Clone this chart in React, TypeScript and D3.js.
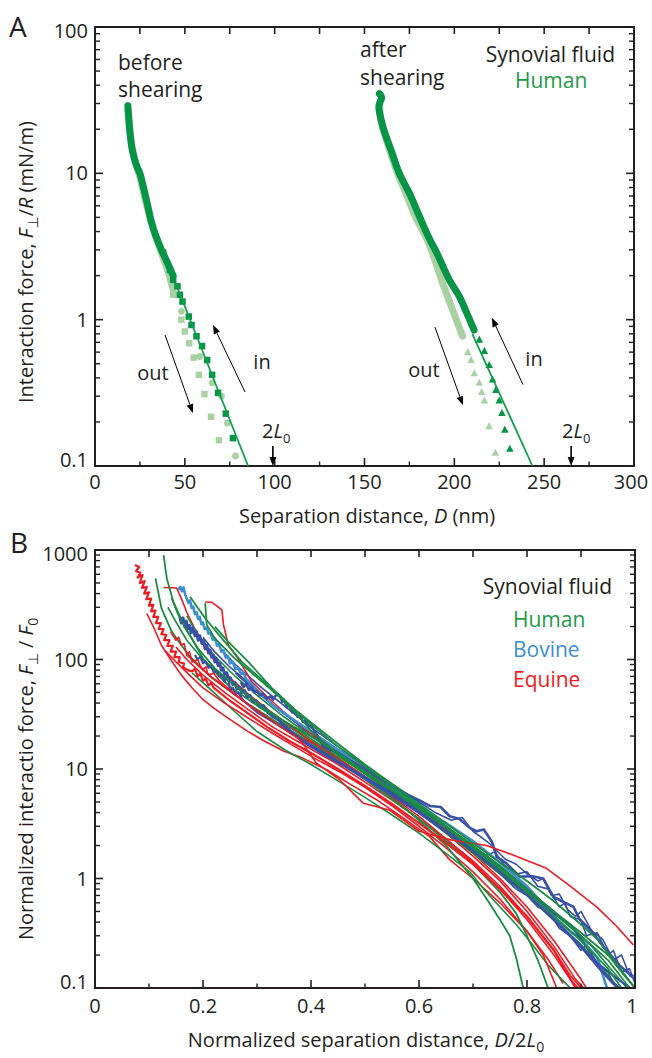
import React from "react";
import * as d3 from "d3";

// ---------- Panel A data: [D (nm), F/R (mN/m)] ----------
const beforeInBand: [number, number][] = [
  [18.3, 29], [18.8, 24], [19.5, 19], [20.5, 15], [22, 12.5], [23.5, 11], [25, 10], [27, 8], [29, 6.3],
  [31.5, 4.6], [34, 3.7], [37, 3.0], [40, 2.5], [43.5, 2.0],
];
const beforeInPts: [number, number][] = [
  [38, 2.87], [41.7, 2.19], [43.5, 1.87], [45.9, 1.69], [47.2, 1.48], [48.7, 1.33], [52.2, 1.05], [53.7, 0.92],
  [56.5, 0.77], [59.6, 0.66], [62.4, 0.53], [65.2, 0.42], [68.5, 0.316], [72.8, 0.228], [76.8, 0.155],
];
const beforeOutBand: [number, number][] = [
  [18.3, 27], [19.5, 19], [22, 12.5], [24.8, 9.6], [28.8, 6], [32.8, 4], [36.8, 2.9], [40.8, 2.1], [43.5, 1.6],
];
const beforeOutSq: [number, number][] = [
  [43.5, 1.48], [48.1, 1.0], [50, 0.83], [52.4, 0.69], [55, 0.55], [57.8, 0.42], [60.9, 0.31], [64.6, 0.217], [69, 0.15],
];
const beforeOutCirc: [number, number][] = [
  [48.1, 1.14], [58.3, 0.56], [65.2, 0.37], [70.4, 0.3], [73.7, 0.197], [78.2, 0.117],
];
const beforeFit: [number, number][] = [[45, 1.76], [85.2, 0.1]];

const afterInBand: [number, number][] = [
  [158.3, 35], [159.6, 33], [158.8, 31], [158, 28.6], [160.2, 20.9], [164.8, 14.4], [169.4, 10], [175, 7.3],
  [180.6, 5.07], [186, 3.6], [190, 2.9], [197.2, 1.87], [202.8, 1.44], [206.5, 1.14], [211, 0.85],
];
const afterInPts: [number, number][] = [
  [213.9, 0.73], [216.7, 0.61], [219.4, 0.49], [221.3, 0.39], [223.1, 0.33], [225, 0.28], [226.5, 0.23],
  [228.1, 0.177], [230.9, 0.131],
];
const afterOutBand: [number, number][] = [
  [158.3, 30], [159.5, 22], [163.5, 15], [167.8, 10.5], [173, 7.3], [178.5, 5], [185, 3.5], [188.5, 2.7],
  [193.5, 1.78], [199, 1.17], [204.6, 0.77],
];
const afterOutPts: [number, number][] = [
  [207.5, 0.6], [209.3, 0.53], [211.1, 0.43], [213.9, 0.37], [215.2, 0.32], [216.7, 0.28], [219.4, 0.187], [222.8, 0.123],
];
const afterFit: [number, number][] = [[210, 0.8], [243.5, 0.1]];

const xTicksA = [0, 50, 100, 150, 200, 250, 300];
const yTicksA = [0.1, 1, 10, 100];
const yTicksB = [0.1, 1, 10, 100, 1000];
const xTicksB = [0, 0.2, 0.4, 0.6, 0.8, 1];

// ---------- Panel B data: [D/2L0, F/F0] ----------
const red1: [number, number][] = [
  [0.074, 730], [0.082, 700], [0.076, 640], [0.084, 620], [0.079, 560], [0.088, 590], [0.083, 500], [0.092, 520],
  [0.087, 450], [0.096, 460], [0.091, 400], [0.1, 410], [0.095, 355], [0.104, 360], [0.1, 310], [0.108, 315],
  [0.104, 275], [0.112, 280], [0.108, 245], [0.117, 245], [0.113, 215], [0.122, 215], [0.118, 190], [0.127, 190],
  [0.123, 170], [0.132, 168], [0.128, 150], [0.138, 150], [0.134, 133], [0.144, 133], [0.14, 118], [0.15, 118],
  [0.147, 105], [0.157, 105], [0.155, 95], [0.165, 92], [0.163, 85], [0.172, 80], [0.18, 78], [0.185, 82],
  [0.19, 70], [0.195, 74], [0.2, 64], [0.205, 67], [0.21, 58], [0.215, 61], [0.22, 55], [0.25, 42], [0.28, 33],
  [0.32, 24], [0.36, 18], [0.4, 14], [0.45, 10], [0.5, 7], [0.55, 4.8], [0.6, 3.2], [0.65, 2.1], [0.7, 1.35],
  [0.75, 0.8], [0.8, 0.45], [0.85, 0.22], [0.89, 0.1],
];
const red2: [number, number][] = [
  [0.096, 263], [0.11, 190], [0.123, 135], [0.14, 100], [0.16, 72], [0.18, 55], [0.198, 44], [0.22, 36],
  [0.247, 29], [0.28, 22.5], [0.31, 18.4], [0.35, 14.5], [0.38, 12.9], [0.43, 9.8], [0.47, 7.4], [0.52, 5.3],
  [0.57, 3.6], [0.62, 2.4], [0.657, 1.48], [0.7, 1.0], [0.75, 0.6], [0.8, 0.33], [0.84, 0.18], [0.867, 0.11],
];
const red3: [number, number][] = [
  [0.127, 455], [0.151, 450], [0.16, 360], [0.17, 270], [0.185, 190], [0.2, 140], [0.22, 100], [0.25, 68],
  [0.28, 50], [0.32, 35], [0.36, 25], [0.4, 18], [0.45, 12.5], [0.5, 8.5], [0.55, 5.6], [0.6, 3.7], [0.65, 2.3],
  [0.7, 1.4], [0.75, 0.8], [0.8, 0.42], [0.85, 0.2], [0.88, 0.12], [0.895, 0.1],
];
const red4: [number, number][] = [
  [0.204, 335], [0.216, 333], [0.225, 310], [0.235, 282], [0.238, 207], [0.247, 135], [0.265, 102], [0.29, 63],
  [0.32, 45], [0.36, 30], [0.4, 21], [0.45, 14], [0.5, 9.5], [0.55, 6.5], [0.6, 4.3], [0.65, 2.8], [0.7, 1.7],
  [0.75, 1.0], [0.8, 0.55], [0.85, 0.27], [0.9, 0.12], [0.91, 0.1],
];
const red5: [number, number][] = [
  [0.14, 180], [0.15, 150], [0.155, 160], [0.16, 135], [0.165, 140], [0.17, 110], [0.175, 118], [0.18, 95],
  [0.19, 100], [0.195, 88], [0.2, 80], [0.205, 86], [0.21, 72], [0.22, 75], [0.23, 64], [0.24, 58], [0.27, 44],
  [0.3, 34], [0.34, 25], [0.38, 18.5], [0.41, 11.3], [0.454, 7.9], [0.496, 4.9], [0.546, 4.2], [0.6, 2.7],
  [0.66, 2.25], [0.725, 2.0], [0.78, 1.6], [0.836, 1.24], [0.88, 0.85], [0.929, 0.55], [0.965, 0.37], [0.997, 0.247],
];
const red6: [number, number][] = [
  [0.13, 120], [0.15, 95], [0.175, 72], [0.2, 55], [0.24, 40], [0.28, 30], [0.33, 21], [0.37, 16], [0.407, 12.5],
  [0.45, 9.6], [0.5, 6.8], [0.55, 4.6], [0.6, 3.0], [0.65, 1.9], [0.7, 1.15], [0.75, 0.65], [0.8, 0.33],
  [0.83, 0.2], [0.855, 0.1],
];
const red7: [number, number][] = [
  [0.15, 130], [0.17, 100], [0.2, 72], [0.24, 50], [0.28, 36], [0.33, 24], [0.37, 18.5], [0.407, 14.5],
  [0.45, 11], [0.5, 7.6], [0.55, 5.2], [0.6, 3.5], [0.65, 2.3], [0.7, 1.45], [0.75, 0.85], [0.8, 0.45],
  [0.85, 0.22], [0.88, 0.13], [0.9, 0.1],
];
const red8: [number, number][] = [
  [0.17, 110], [0.2, 80], [0.24, 56], [0.28, 40], [0.33, 27], [0.37, 20], [0.407, 17], [0.45, 12.5], [0.5, 8.5],
  [0.55, 5.9], [0.6, 4.0], [0.65, 2.6], [0.7, 1.6], [0.75, 0.95], [0.8, 0.5], [0.85, 0.24], [0.89, 0.12], [0.905, 0.1],
];

const green1: [number, number][] = [
  [0.127, 900], [0.133, 550], [0.145, 338], [0.167, 193], [0.191, 126], [0.222, 83], [0.265, 55], [0.321, 33],
  [0.407, 19], [0.45, 14], [0.5, 9.5], [0.55, 6.5], [0.6, 4.4], [0.65, 3.0], [0.7, 2.0], [0.75, 1.3], [0.8, 0.8],
  [0.85, 0.5], [0.9, 0.3], [0.95, 0.18], [0.99, 0.1],
];
const green2: [number, number][] = [
  [0.112, 550], [0.123, 295], [0.142, 180], [0.173, 110], [0.216, 68], [0.278, 41], [0.346, 25], [0.407, 16.6],
  [0.45, 12], [0.5, 8], [0.55, 5.3], [0.6, 3.5], [0.65, 2.2], [0.7, 1.35], [0.75, 0.75], [0.78, 0.48], [0.8, 0.3],
  [0.82, 0.18], [0.839, 0.1],
];
const green3: [number, number][] = [
  [0.142, 363], [0.154, 257], [0.179, 156], [0.204, 95], [0.247, 58], [0.3, 38], [0.35, 26], [0.4, 18],
  [0.45, 12.5], [0.5, 8.5], [0.55, 5.5], [0.6, 3.4], [0.65, 2.0], [0.7, 1.0], [0.73, 0.6], [0.75, 0.42],
  [0.768, 0.3], [0.781, 0.18], [0.793, 0.1],
];
const green4: [number, number][] = [
  [0.176, 375], [0.204, 238], [0.235, 156], [0.272, 95], [0.321, 58], [0.37, 33], [0.407, 20.6], [0.45, 14],
  [0.5, 9.5], [0.55, 6.4], [0.6, 4.3], [0.65, 2.9], [0.7, 1.9], [0.75, 1.25], [0.8, 0.8], [0.85, 0.5], [0.9, 0.32],
  [0.95, 0.2], [0.98, 0.13], [1.0, 0.1],
];
const green5: [number, number][] = [
  [0.204, 326], [0.207, 207], [0.222, 156], [0.259, 102], [0.309, 63], [0.36, 38], [0.407, 24], [0.45, 16],
  [0.5, 10.5], [0.55, 7], [0.6, 4.6], [0.65, 3.0], [0.7, 1.9], [0.75, 1.2], [0.8, 0.75], [0.85, 0.45], [0.9, 0.27],
  [0.95, 0.15], [0.975, 0.1],
];
const green6: [number, number][] = [
  [0.222, 200], [0.247, 145], [0.284, 95], [0.327, 55], [0.37, 35], [0.407, 25], [0.45, 17], [0.5, 11],
  [0.55, 7.3], [0.6, 4.8], [0.65, 3.2], [0.7, 2.1], [0.75, 1.4], [0.8, 0.95], [0.85, 0.62], [0.9, 0.38],
  [0.93, 0.28], [0.96, 0.18], [1.0, 0.1],
];
const green7: [number, number][] = [
  [0.18, 75], [0.22, 50], [0.26, 33], [0.3, 22], [0.352, 14.9], [0.4, 11], [0.45, 7.8], [0.5, 5.5], [0.55, 3.8],
  [0.6, 2.6], [0.65, 1.7], [0.694, 1.15], [0.72, 0.8], [0.75, 0.55], [0.78, 0.38], [0.81, 0.25], [0.84, 0.16],
  [0.88, 0.1],
];
const green8: [number, number][] = [
  [0.17, 250], [0.19, 170], [0.22, 110], [0.26, 70], [0.3, 47], [0.35, 30], [0.4, 20], [0.45, 13.5], [0.5, 9],
  [0.55, 6], [0.6, 4.0], [0.65, 2.6], [0.7, 1.7], [0.75, 1.1], [0.8, 0.7], [0.85, 0.42], [0.9, 0.25],
  [0.94, 0.15], [0.97, 0.1],
];
const green9: [number, number][] = [
  [0.135, 300], [0.15, 220], [0.17, 150], [0.2, 100], [0.24, 68], [0.28, 48], [0.33, 32], [0.38, 22], [0.43, 15],
  [0.48, 10.5], [0.53, 7.2], [0.58, 4.9], [0.63, 3.3], [0.68, 2.2], [0.73, 1.45], [0.78, 0.92], [0.83, 0.58],
  [0.88, 0.36], [0.92, 0.24], [0.96, 0.14], [0.985, 0.1],
];

const blueLight1: [number, number][] = [
  [0.154, 431], [0.158, 460], [0.161, 420], [0.164, 455], [0.167, 390], [0.17, 360], [0.173, 330], [0.176, 345],
  [0.179, 295], [0.182, 305], [0.185, 260], [0.188, 270], [0.191, 235], [0.194, 245], [0.197, 210], [0.2, 218],
  [0.203, 190], [0.207, 196], [0.21, 172], [0.214, 176], [0.218, 152], [0.222, 156], [0.226, 134], [0.23, 138],
  [0.234, 118], [0.238, 121], [0.242, 104], [0.246, 107], [0.25, 92], [0.255, 95], [0.26, 82], [0.265, 84],
  [0.27, 74], [0.275, 76], [0.28, 66], [0.29, 60], [0.3, 52], [0.33, 38], [0.36, 30], [0.4, 22], [0.45, 15],
  [0.5, 10.5], [0.546, 7.0], [0.6, 4.6], [0.62, 3.9], [0.65, 3.2], [0.7, 2.2], [0.75, 1.4], [0.8, 0.85],
  [0.85, 0.45], [0.88, 0.33], [0.9, 0.28], [0.93, 0.19], [0.948, 0.1],
];
const blue2: [number, number][] = [
  [0.157, 245], [0.16, 215], [0.163, 240], [0.166, 200], [0.169, 225], [0.172, 190], [0.175, 205], [0.178, 175],
  [0.181, 195], [0.185, 165], [0.188, 180], [0.191, 150], [0.194, 165], [0.198, 140], [0.201, 150], [0.204, 125],
  [0.207, 135], [0.21, 115], [0.213, 122], [0.216, 105], [0.219, 110], [0.222, 95], [0.225, 102], [0.228, 88],
  [0.231, 92], [0.234, 80], [0.237, 84], [0.24, 73], [0.244, 76], [0.247, 65], [0.251, 68], [0.255, 59],
  [0.259, 62], [0.263, 54], [0.267, 56], [0.272, 50], [0.277, 52], [0.282, 45], [0.287, 47], [0.292, 41],
  [0.298, 42], [0.305, 37], [0.312, 38], [0.32, 33], [0.33, 30], [0.34, 28], [0.35, 25], [0.38, 18.5],
  [0.42, 14], [0.46, 10.8], [0.5, 8.2], [0.55, 5.8], [0.6, 4.0], [0.65, 2.7], [0.7, 1.8], [0.75, 1.15],
  [0.8, 0.72], [0.85, 0.42], [0.9, 0.24], [0.93, 0.16], [0.96, 0.11], [0.97, 0.1],
];
const blue3: [number, number][] = [
  [0.185, 110], [0.19, 100], [0.195, 106], [0.2, 92], [0.205, 96], [0.21, 84], [0.215, 88], [0.22, 76],
  [0.225, 79], [0.23, 70], [0.235, 72], [0.24, 62], [0.244, 70], [0.247, 66], [0.25, 52], [0.255, 55],
  [0.26, 48], [0.265, 50], [0.275, 42], [0.3, 33], [0.34, 25], [0.38, 19], [0.42, 14.5], [0.46, 11], [0.5, 8.4],
  [0.55, 6], [0.6, 4.2], [0.65, 2.9], [0.7, 1.95], [0.75, 1.3], [0.8, 0.8], [0.85, 0.48], [0.88, 0.38],
  [0.9, 0.28], [0.93, 0.17], [0.96, 0.13], [0.99, 0.1],
];
const blue4: [number, number][] = [
  [0.27, 62], [0.275, 56], [0.28, 60], [0.285, 53], [0.29, 56], [0.295, 50], [0.3, 52], [0.305, 47], [0.31, 49],
  [0.318, 44], [0.325, 46], [0.33, 43], [0.333, 46], [0.337, 48], [0.343, 46], [0.347, 41], [0.35, 43],
  [0.355, 37], [0.36, 38], [0.365, 33], [0.37, 34], [0.375, 30], [0.38, 31], [0.385, 27], [0.39, 28],
  [0.395, 25], [0.4, 25], [0.407, 22], [0.423, 16], [0.45, 14], [0.472, 12], [0.5, 10], [0.522, 8.5],
  [0.559, 6.5], [0.6, 5.2], [0.62, 4.6], [0.64, 4.5], [0.657, 3.7], [0.675, 3.5], [0.694, 2.9], [0.707, 2.7],
  [0.72, 2.8], [0.735, 2.17], [0.744, 1.58], [0.76, 1.4], [0.787, 1.04], [0.81, 1.05], [0.83, 1.0], [0.849, 0.68],
  [0.865, 0.62], [0.886, 0.55], [0.898, 0.42], [0.92, 0.33], [0.941, 0.24], [0.955, 0.2], [0.972, 0.16],
  [0.985, 0.14], [0.997, 0.127],
];
const blue5: [number, number][] = [
  [0.2, 160], [0.22, 120], [0.25, 85], [0.29, 58], [0.33, 38], [0.37, 27], [0.4, 20], [0.45, 14.5], [0.5, 9.8],
  [0.55, 6.8], [0.6, 4.5], [0.65, 3.0], [0.7, 2.0], [0.72, 1.6], [0.74, 1.75], [0.76, 1.3], [0.78, 1.1],
  [0.8, 1.15], [0.82, 0.85], [0.84, 0.8], [0.86, 0.55], [0.87, 0.6], [0.88, 0.45], [0.9, 0.42], [0.91, 0.3],
  [0.93, 0.32], [0.95, 0.2], [0.96, 0.22], [0.975, 0.14], [0.99, 0.15], [1.0, 0.11],
];
const blue6: [number, number][] = [
  [0.23, 130], [0.26, 90], [0.3, 60], [0.35, 38], [0.4, 24], [0.45, 16], [0.5, 10.8], [0.55, 7.3], [0.6, 5.0],
  [0.63, 4.0], [0.66, 3.4], [0.68, 3.6], [0.7, 2.7], [0.73, 2.1], [0.76, 1.5], [0.78, 1.35], [0.8, 1.1],
  [0.82, 0.95], [0.83, 1.0], [0.845, 0.7], [0.86, 0.72], [0.875, 0.52], [0.89, 0.45], [0.9, 0.5], [0.92, 0.33],
  [0.94, 0.28], [0.96, 0.18], [0.975, 0.2], [0.99, 0.13], [1.0, 0.12],
];
const blue7: [number, number][] = [
  [0.26, 75], [0.3, 50], [0.35, 32], [0.4, 21], [0.45, 14], [0.5, 9.3], [0.55, 6.2], [0.6, 4.1], [0.65, 2.7],
  [0.7, 1.75], [0.75, 1.1], [0.78, 0.8], [0.8, 0.7], [0.82, 0.55], [0.84, 0.5], [0.86, 0.35], [0.88, 0.3],
  [0.9, 0.22], [0.91, 0.25], [0.93, 0.16], [0.95, 0.14], [0.965, 0.1],
];

const RED = "#ec1c24";
const GREEN = "#1a8c43";
const BLUE = "#3a50a6";
const LBLUE = "#3d8fd1";

const linesB: { pts: [number, number][]; color: string; w: number }[] = [
  { pts: red2, color: RED, w: 1.6 },
  { pts: green7, color: GREEN, w: 1.6 },
  { pts: red6, color: RED, w: 1.6 },
  { pts: blue7, color: BLUE, w: 1.6 },
  { pts: red7, color: RED, w: 1.6 },
  { pts: green2, color: GREEN, w: 1.8 },
  { pts: blue5, color: BLUE, w: 1.6 },
  { pts: red8, color: RED, w: 1.6 },
  { pts: green3, color: GREEN, w: 1.8 },
  { pts: red3, color: RED, w: 1.6 },
  { pts: green9, color: GREEN, w: 1.6 },
  { pts: blue6, color: BLUE, w: 1.6 },
  { pts: red4, color: RED, w: 1.6 },
  { pts: green8, color: GREEN, w: 1.6 },
  { pts: red1, color: RED, w: 2.2 },
  { pts: blueLight1, color: LBLUE, w: 2.6 },
  { pts: blue3, color: BLUE, w: 2.2 },
  { pts: blue2, color: BLUE, w: 3 },
  { pts: blue4, color: BLUE, w: 2.6 },
  { pts: green1, color: GREEN, w: 1.8 },
  { pts: green4, color: GREEN, w: 1.8 },
  { pts: red5, color: RED, w: 1.6 },
  { pts: green5, color: GREEN, w: 1.8 },
  { pts: green6, color: GREEN, w: 1.8 },
];

const AX = "#231f20";
const FONT = "'Open Sans', 'DejaVu Sans', sans-serif";
const DKG = "#079447";
const LTG = "#a9d1a4";
const FITG = "#0ea04c";

function logMinors(lo: number, hi: number): number[] {
  const out: number[] = [];
  for (let e = Math.log10(lo); e < Math.log10(hi) - 1e-9; e++) {
    for (let i = 2; i <= 9; i++) out.push(i * Math.pow(10, e));
  }
  return out;
}

function Frame(props: {
  x: d3.ScaleLinear<number, number>;
  y: d3.ScaleLogarithmic<number, number>;
  xMajor: number[];
  xMinor: number[];
  xTop: number[];
  yMajor: number[];
  xLabelY: number;
}) {
  const { x, y, xMajor, xMinor, xTop, yMajor } = props;
  const [x0, x1] = x.range();
  const [yb, yt] = y.range();
  const minors = logMinors(y.domain()[0], y.domain()[1]);
  return (
    <g>
      <rect x={x0} y={yt} width={x1 - x0} height={yb - yt} fill="none" stroke={AX} strokeWidth={2} />
      {yMajor.map((v) => (
        <g key={"ym" + v}>
          <line x1={x0} x2={x0 + 8} y1={y(v)} y2={y(v)} stroke={AX} strokeWidth={1.6} />
          <line x1={x1} x2={x1 - 8} y1={y(v)} y2={y(v)} stroke={AX} strokeWidth={1.6} />
        </g>
      ))}
      {minors.map((v) => (
        <g key={"yn" + v}>
          <line x1={x0} x2={x0 + 5} y1={y(v)} y2={y(v)} stroke={AX} strokeWidth={1.4} />
          <line x1={x1} x2={x1 - 5} y1={y(v)} y2={y(v)} stroke={AX} strokeWidth={1.4} />
        </g>
      ))}
      {xMajor.map((v) => (
        <line key={"xm" + v} x1={x(v)} x2={x(v)} y1={yb} y2={yb - 8} stroke={AX} strokeWidth={1.6} />
      ))}
      {xMinor.map((v) => (
        <line key={"xn" + v} x1={x(v)} x2={x(v)} y1={yb} y2={yb - 4.5} stroke={AX} strokeWidth={1.4} />
      ))}
      {xTop.map((v) => (
        <line key={"xt" + v} x1={x(v)} x2={x(v)} y1={yt} y2={yt + 7} stroke={AX} strokeWidth={1.6} />
      ))}
      {xMajor.map((v, i) => (
        <text
          key={"xl" + v}
          x={x(v) - (i === xMajor.length - 1 ? 3 : 0)}
          y={props.xLabelY}
          textAnchor="middle"
          fontSize={20}
          fontFamily={FONT}
          fill={AX}
        >
          {String(v)}
        </text>
      ))}
      {yMajor.map((v, i) => (
        <text
          key={"yl" + v}
          x={88}
          y={y(v) + 7 + (i === yMajor.length - 1 ? 4 : 0) - (i === 0 ? 6 : 0)}
          textAnchor="end"
          fontSize={20}
          fontFamily={FONT}
          fill={AX}
        >
          {String(v)}
        </text>
      ))}
    </g>
  );
}

function Arrow(props: { x1: number; y1: number; x2: number; y2: number; head?: number; w?: number }) {
  const { x1, y1, x2, y2 } = props;
  const h = props.head ?? 9;
  const ang = Math.atan2(y2 - y1, x2 - x1);
  const bx = x2 - h * Math.cos(ang);
  const by = y2 - h * Math.sin(ang);
  const hw = h * 0.38;
  const px = -Math.sin(ang) * hw;
  const py = Math.cos(ang) * hw;
  return (
    <g>
      <line x1={x1} y1={y1} x2={bx} y2={by} stroke="#000" strokeWidth={props.w ?? 1} />
      <path d={`M${x2},${y2} L${bx + px},${by + py} L${bx - px},${by - py} Z`} fill="#000" />
    </g>
  );
}

export default function App() {
  const xA = d3.scaleLinear().domain([0, 300]).range([95, 634]);
  const yA = d3.scaleLog().domain([0.1, 100]).range([466, 27]);
  const xB = d3.scaleLinear().domain([0, 1]).range([95, 635]);
  const yB = d3.scaleLog().domain([0.1, 1000]).range([988, 550]);

  const lineA = d3
    .line<[number, number]>()
    .x((d) => xA(d[0]))
    .y((d) => yA(d[1]))
    .curve(d3.curveCatmullRom);
  const lineStraightA = d3
    .line<[number, number]>()
    .x((d) => xA(d[0]))
    .y((d) => yA(d[1]));
  const lineB = d3
    .line<[number, number]>()
    .x((d) => xB(d[0]))
    .y((d) => yB(Math.max(0.1, d[1])));

  const sq = (pts: [number, number][], color: string, key: string, s = 6.5) =>
    pts.map((d, i) => (
      <rect key={key + i} x={xA(d[0]) - s / 2} y={yA(d[1]) - s / 2} width={s} height={s} fill={color} />
    ));
  const circ = (pts: [number, number][], color: string, key: string, r = 3.4) =>
    pts.map((d, i) => <circle key={key + i} cx={xA(d[0])} cy={yA(d[1])} r={r} fill={color} />);
  const tri = (pts: [number, number][], color: string, key: string, s = 7.5) =>
    pts.map((d, i) => {
      const cx = xA(d[0]);
      const cy = yA(d[1]);
      return (
        <path
          key={key + i}
          d={`M${cx},${cy - s * 0.55} L${cx + s / 2},${cy + s * 0.4} L${cx - s / 2},${cy + s * 0.4} Z`}
          fill={color}
        />
      );
    });

  const txt = { fontFamily: FONT, fill: "#231f20" } as const;

  return (
    <svg
      width={652}
      height={1058}
      style={{ position: "absolute", left: 0, top: 0, background: "#fff" }}
      xmlns="http://www.w3.org/2000/svg"
    >
      <rect x={0} y={0} width={652} height={1058} fill="#fff" />
      {/* ---------------- Panel A ---------------- */}
      <text x={9} y={37} fontSize={28} {...txt}>A</text>
      <Frame
        x={xA}
        y={yA}
        xMajor={xTicksA}
        xMinor={d3.range(25, 300, 50)}
        xTop={d3.range(25, 300, 25)}
        yMajor={yTicksA}
        xLabelY={489}
      />
      <path d={lineA(beforeOutBand) || ""} fill="none" stroke={LTG} strokeWidth={7} strokeLinecap="round" />
      {sq(beforeOutSq, LTG, "bos")}
      {circ(beforeOutCirc, LTG, "boc")}
      <path d={lineA(afterOutBand) || ""} fill="none" stroke={LTG} strokeWidth={7} strokeLinecap="round" />
      {tri(afterOutPts, LTG, "aop")}
      <path d={lineA(beforeInBand) || ""} fill="none" stroke={DKG} strokeWidth={7} strokeLinecap="round" />
      {sq(beforeInPts, DKG, "bip")}
      <path d={lineA(afterInBand) || ""} fill="none" stroke={DKG} strokeWidth={7} strokeLinecap="round" />
      {tri(afterInPts, DKG, "aip")}
      <path d={lineStraightA(beforeFit) || ""} fill="none" stroke={FITG} strokeWidth={1.8} />
      <path d={lineStraightA(afterFit) || ""} fill="none" stroke={FITG} strokeWidth={1.8} />
      <Arrow x1={xA(39)} y1={yA(0.785)} x2={xA(54.5)} y2={yA(0.23)} />
      <Arrow x1={xA(83.5)} y1={yA(0.32)} x2={xA(65.7)} y2={yA(0.92)} />
      <Arrow x1={xA(189.2)} y1={yA(0.89)} x2={xA(204.8)} y2={yA(0.26)} />
      <Arrow x1={xA(238.2)} y1={yA(0.36)} x2={xA(220.9)} y2={yA(1.03)} />
      <text x={153} y={380} fontSize={20} textAnchor="middle" {...txt}>out</text>
      <text x={262} y={369} fontSize={20} textAnchor="middle" {...txt}>in</text>
      <text x={424} y={377} fontSize={20} textAnchor="middle" {...txt}>out</text>
      <text x={534} y={366} fontSize={20} textAnchor="middle" {...txt}>in</text>
      <Arrow x1={xA(99)} y1={446} x2={xA(99)} y2={466} head={9} w={1.6} />
      <text x={262} y={438} fontSize={20} {...txt}>
        2<tspan fontStyle="italic">L</tspan>
        <tspan fontSize={13} dy={5}>0</tspan>
      </text>
      <Arrow x1={xA(265)} y1={446} x2={xA(265)} y2={466} head={9} w={1.6} />
      <text x={562} y={438} fontSize={20} {...txt}>
        2<tspan fontStyle="italic">L</tspan>
        <tspan fontSize={13} dy={5}>0</tspan>
      </text>
      <text x={118} y={70} fontSize={21} {...txt}>before</text>
      <text x={118} y={97} fontSize={21} {...txt}>shearing</text>
      <text x={360} y={57} fontSize={21} {...txt}>after</text>
      <text x={360} y={85} fontSize={21} {...txt}>shearing</text>
      <text x={615} y={62} fontSize={21} textAnchor="end" {...txt}>Synovial fluid</text>
      <text x={515} y={88} fontSize={21} fontFamily={FONT} fill="#1e9b4b">Human</text>
      <text transform="translate(33,403) rotate(-90)" fontSize={20} {...txt}>
        Interaction force, <tspan fontStyle="italic">F</tspan>
        <tspan fontSize={14} dy={5}>⊥</tspan>
        <tspan dy={-5}>/</tspan>
        <tspan fontStyle="italic">R</tspan> (mN/m)
      </text>
      <text x={367} y={523} fontSize={20} textAnchor="middle" {...txt}>
        Separation distance, <tspan fontStyle="italic">D</tspan> (nm)
      </text>

      {/* ---------------- Panel B ---------------- */}
      <text x={10} y={553} fontSize={28} {...txt}>B</text>
      <defs>
        <clipPath id="clipB">
          <rect x={95} y={550} width={540} height={438} />
        </clipPath>
      </defs>
      <g clipPath="url(#clipB)">
        {linesB.map((l, i) => (
          <path
            key={"lb" + i}
            d={lineB(l.pts) || ""}
            fill="none"
            stroke={l.color}
            strokeWidth={l.w}
            strokeLinejoin="round"
          />
        ))}
      </g>
      <Frame
        x={xB}
        y={yB}
        xMajor={xTicksB}
        xMinor={[0.1, 0.3, 0.5, 0.7, 0.9]}
        xTop={d3.range(1, 10).map((i) => i / 10)}
        yMajor={yTicksB}
        xLabelY={1013}
      />
      <text x={612} y={594} fontSize={21} textAnchor="end" {...txt}>Synovial fluid</text>
      <text x={513} y={627} fontSize={21} fontFamily={FONT} fill="#1e9b4b">Human</text>
      <text x={513} y={657} fontSize={21} fontFamily={FONT} fill="#3d8fd1">Bovine</text>
      <text x={513} y={687} fontSize={21} fontFamily={FONT} fill="#ec1c24">Equine</text>
      <text transform="translate(33,940) rotate(-90)" fontSize={20} {...txt}>
        Normalized interactio force, <tspan fontStyle="italic">F</tspan>
        <tspan fontSize={14} dy={5}>⊥</tspan>
        <tspan dy={-5}> / </tspan>
        <tspan fontStyle="italic">F</tspan>
        <tspan fontSize={14} dy={5}>0</tspan>
      </text>
      <text x={366} y={1047} fontSize={20} textAnchor="middle" {...txt}>
        Normalized separation distance, <tspan fontStyle="italic">D</tspan>/2<tspan fontStyle="italic">L</tspan>
        <tspan fontSize={14} dy={5}>0</tspan>
      </text>
    </svg>
  );
}
